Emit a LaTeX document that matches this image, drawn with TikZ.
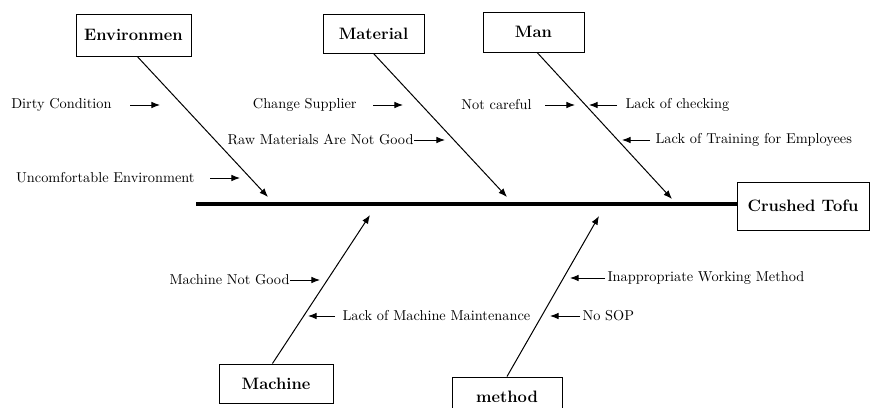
\documentclass[tikz,border=0pt]{standalone}
\usetikzlibrary{arrows.meta}

\begin{document}
\begin{tikzpicture}[x=0.75pt,y=-0.75pt,line width=0.75pt,>={Latex[length=6.5pt,width=5pt]},
  box/.style={draw,line width=0.75pt,inner sep=0pt,font=\bfseries\fontsize{12.4}{14}\selectfont},
  cause/.style={inner sep=0pt,font=\fontsize{10.75}{12}\selectfont},
  bone/.style={->,line width=0.75pt},
  spine/.style={line width=3pt}]
  \useasboundingbox (0,0) rectangle (870,407);
  \clip (0,0) rectangle (870,407);
  % cajas
  \node[box,minimum width=86.25pt,minimum height=31.5pt] (env) at (133.5,35) {Environmen};
  \node[box,minimum width=75.75pt,minimum height=29.25pt] (mat) at (373.5,33.5) {Material};
  \node[box,minimum width=75.75pt,minimum height=30pt] (man) at (533.5,32) {Man};
  \node[box,minimum width=99pt,minimum height=36pt] (tofu) at (803,206) {Crushed Tofu};
  \node[box,minimum width=85.5pt,minimum height=29.25pt] (mach) at (276,383.5) {Machine};
  \node[box,minimum width=82.5pt,minimum height=30pt] (meth) at (507,397) {method};
  % espina
  \coordinate (tail) at (196,204);
  \draw[spine] (tail) -- (tail -| tofu.west);
  % huesos
  \coordinate (envtip) at (268,197);
  \coordinate (mattip) at (507,197);
  \coordinate (mantip) at (672,199);
  \coordinate (machtip) at (370,215);
  \coordinate (methtip) at (599,216);
  \draw[bone] (env.-80) -- (envtip);
  \draw[bone] (mat.south) -- (mattip);
  \draw[bone] (man.-80) -- (mantip);
  \draw[bone] (mach.100) -- (machtip);
  \draw[bone] (meth.north) -- (methtip);
  % causas arriba
  \node[cause,anchor=east] (dirty) at (112,105) {Dirty Condition};
  \coordinate (dirtytip) at (160,105);
  \draw[->,shorten <=13.5pt] (dirty) -- (dirtytip);
  \node[cause,anchor=east] (uncomf) at (195,178) {Uncomfortable Environment};
  \coordinate (uncomftip) at (240,178);
  \draw[->,shorten <=11.25pt] (uncomf) -- (uncomftip);
  \node[cause,anchor=east] (supp) at (357,105) {Change Supplier};
  \coordinate (supptip) at (403,105);
  \draw[->,shorten <=12pt] (supp) -- (supptip);
  \node[cause,anchor=east] (raw) at (414,140) {Raw Materials Are Not Good};
  \coordinate (rawtip) at (445,140);
  \draw[->] (raw) -- (rawtip);
  \node[cause,anchor=east] (care) at (532,105) {Not careful};
  \coordinate (caretip) at (575,105);
  \draw[->,shorten <=9.75pt] (care) -- (caretip);
  \node[cause,anchor=west] (check) at (625,105) {Lack of checking};
  \coordinate (checktip) at (589,105);
  \draw[->,shorten <=6pt] (check) -- (checktip);
  \node[cause,anchor=west] (train) at (655,140) {Lack of Training for Employees};
  \coordinate (traintip) at (622,140);
  \draw[->,shorten <=3.75pt] (train) -- (traintip);
  % causas abajo
  \node[cause,anchor=east] (mgood) at (290,280) {Machine Not Good};
  \coordinate (mgoodtip) at (320,280);
  \draw[->] (mgood) -- (mgoodtip);
  \node[cause,anchor=west] (maint) at (342,316) {Lack of Machine Maintenance};
  \coordinate (mainttip) at (308,316);
  \draw[->,shorten <=5.25pt] (maint) -- (mainttip);
  \node[cause,anchor=west] (inapp) at (607,278) {Inappropriate Working Method};
  \coordinate (inapptip) at (570,278);
  \draw[->,shorten <=1.5pt] (inapp) -- (inapptip);
  \node[cause,anchor=west] (sop) at (582,316) {No SOP};
  \coordinate (soptip) at (550,316);
  \draw[->,shorten <=1.5pt] (sop) -- (soptip);
\end{tikzpicture}
\end{document}
